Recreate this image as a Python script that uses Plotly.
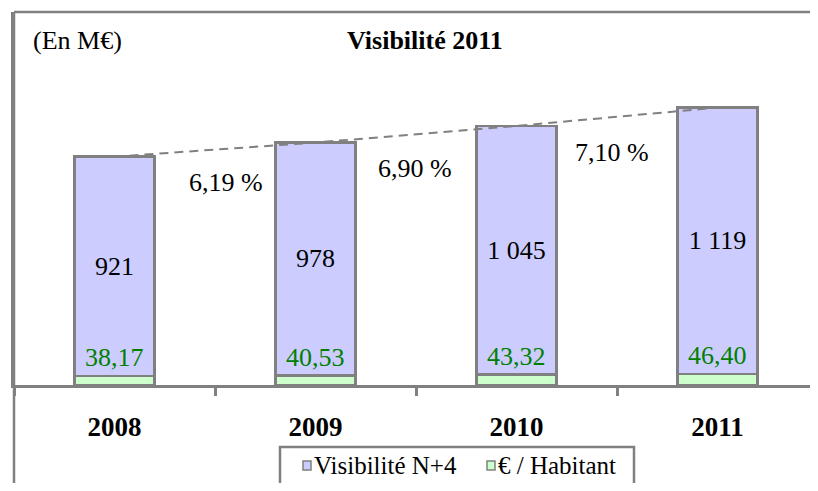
import plotly.graph_objects as go

years = ["2008", "2009", "2010", "2011"]
visibilite = [921, 978, 1045, 1119]
visibilite_labels = ["921", "978", "1 045", "1 119"]
habitant = [38.17, 40.53, 43.32, 46.40]
habitant_labels = ["38,17", "40,53", "43,32", "46,40"]
growth_labels = ["6,19 %", "6,90 %", "7,10 %"]

x = list(range(len(years)))
totals = [v + h for v, h in zip(visibilite, habitant)]

GRAY = "#808080"
SERIF = "Liberation Serif"
BLUE = "#CCCCFF"
GREEN = "#CCFFCC"

OFF = 8  # default page body margin
W, H = 810, 475
ML, MR, MT = 6, 0, 4
PLOT_BOTTOM = 385 - OFF
MB = H - PLOT_BOTTOM
PW = W - ML - MR
PH = H - MT - MB


def px(xp):
    return (xp - OFF - ML) / PW


def py(yp):
    return (PLOT_BOTTOM - (yp - OFF)) / PH


fig = go.Figure()
fig.add_bar(x=x, y=habitant, name="€ / Habitant", width=0.4,
            marker=dict(color=GREEN, line=dict(color=GRAY, width=2.5)),
            showlegend=False, hoverinfo="skip")
fig.add_bar(x=x, y=visibilite, name="Visibilité N+4", width=0.4,
            marker=dict(color=BLUE, line=dict(color=GRAY, width=2.5)),
            text=visibilite_labels, textposition="inside", insidetextanchor="middle",
            textangle=0, constraintext="none",
            textfont=dict(family=SERIF, size=26, color="black"),
            showlegend=False, hoverinfo="skip")
fig.add_scatter(x=x, y=totals, mode="lines",
                line=dict(color=GRAY, width=2, dash="9px,6px"),
                showlegend=False, hoverinfo="skip")

ann = []
for i, lab in enumerate(habitant_labels):
    ann.append(dict(x=x[i], y=habitant[i], xref="x", yref="y", text=lab,
                    showarrow=False, yshift=18, yanchor="middle",
                    font=dict(family=SERIF, size=26, color="#008000")))

g_xshift = [11, -1, -5]
g_yshift = [-33, -34, -36]
for i, lab in enumerate(growth_labels):
    ann.append(dict(x=x[i] + 0.5, y=(totals[i] + totals[i + 1]) / 2, xref="x", yref="y",
                    text=lab, showarrow=False, xshift=g_xshift[i], yshift=g_yshift[i],
                    font=dict(family=SERIF, size=26, color="black")))

ann.append(dict(x=px(31), y=py(40), xref="paper", yref="paper", text="(En M€)",
                showarrow=False, xanchor="left", yanchor="middle",
                font=dict(family=SERIF, size=26, color="black")))
ann.append(dict(x=px(425), y=py(40), xref="paper", yref="paper", text="Visibilité 2011",
                showarrow=False, xanchor="center", yanchor="middle",
                font=dict(family=SERIF, size=26, color="black", weight="bold")))

# legend
leg_items = [("Visibilité N+4", BLUE, 303, 312), ("€ / Habitant", GREEN, 487, 496)]
shapes = [
    dict(type="line", xref="paper", yref="paper", x0=0, x1=1, y0=1, y1=1,
         line=dict(color=GRAY, width=2.5)),
    dict(type="line", xref="paper", yref="paper", x0=0, x1=0, y0=py(500), y1=1,
         line=dict(color=GRAY, width=2.5)),
    dict(type="rect", xref="paper", yref="paper", x0=px(280), x1=px(634),
         y0=py(447), y1=py(510), line=dict(color=GRAY, width=2.5), fillcolor="rgba(0,0,0,0)"),
]
for name, col, sx, tx in leg_items:
    shapes.append(dict(type="rect", xref="paper", yref="paper", x0=px(sx), x1=px(sx + 8),
                       y0=py(470), y1=py(461), fillcolor=col, line=dict(color=GRAY, width=1.5)))
    ann.append(dict(x=px(tx), y=py(465.5), xref="paper", yref="paper", text=name,
                    showarrow=False, xanchor="left", yanchor="middle",
                    font=dict(family=SERIF, size=25, color="black")))

fig.update_layout(
    width=W, height=H, margin=dict(l=ML, r=MR, t=MT, b=MB),
    barmode="stack", plot_bgcolor="white", paper_bgcolor="white",
    showlegend=False, annotations=ann, shapes=shapes,
    xaxis=dict(range=[-0.5, 3.5], tickmode="array", tickvals=x, ticktext=years,
               tickfont=dict(family=SERIF, size=27, color="black", weight="bold"),
               showline=True, linecolor=GRAY, linewidth=2.5, showgrid=False, zeroline=False,
               ticks="", ticklabelstandoff=16,
               minor=dict(tickmode="linear", tick0=-0.5, dtick=1, ticks="outside",
                          ticklen=8, tickwidth=3, tickcolor=GRAY, showgrid=False)),
    yaxis=dict(range=[0, 1567], showticklabels=False, showgrid=False, zeroline=False,
               showline=True, linecolor=GRAY, linewidth=2.5, ticks=""),
)

fig.write_html("out.html")
